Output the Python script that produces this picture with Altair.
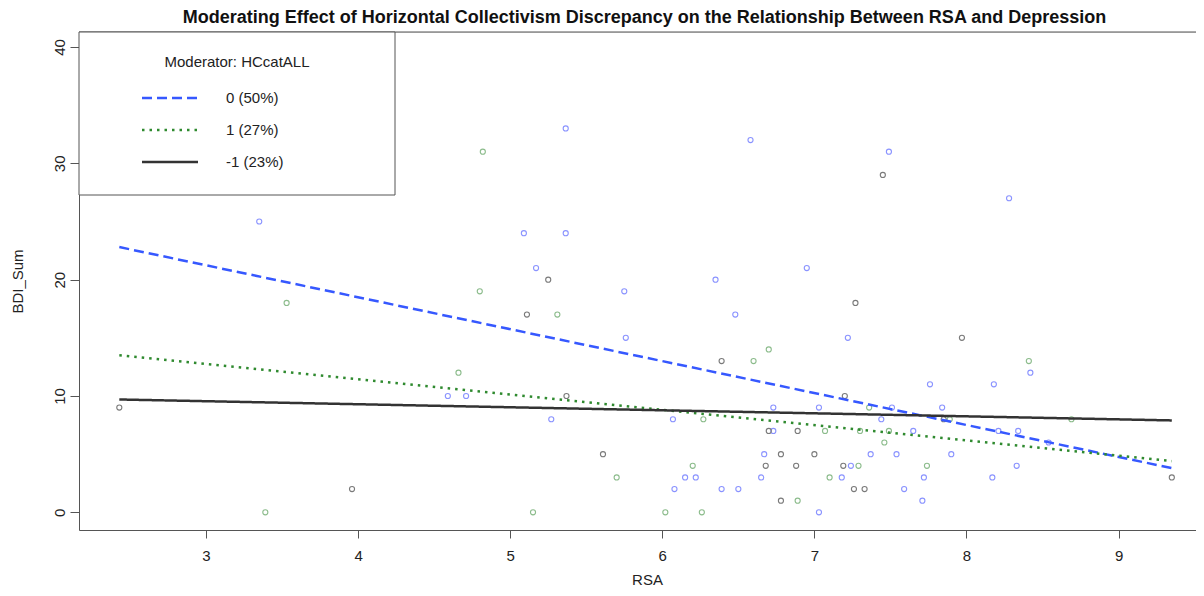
import altair as alt
import pandas as pd

# ---------------- data ----------------
groups = ["0", "1", "-1"]
legend_labels = ["0 (50%)", "1 (27%)", "-1 (23%)"]
legend_title = "Moderator: HCcatALL"
chart_title = ("Moderating Effect of Horizontal Collectivism Discrepancy on the "
               "Relationship Between RSA and Depression")

# group 0 (blue)
rsa_g0 = [3.35, 5.365, 6.58, 7.49, 8.28, 5.09, 5.365, 5.17, 6.95, 5.75, 6.35, 6.48,
          5.76, 7.22, 8.42, 7.76, 8.18, 4.59, 4.71, 6.73, 7.03, 7.51, 7.84, 5.27,
          6.07, 7.44, 6.73, 7.65, 8.21, 8.34, 8.54, 6.67, 7.37, 7.54, 7.90, 7.24,
          8.33, 6.15, 6.22, 6.65, 7.18, 7.72, 8.17, 6.08, 6.39, 6.50, 7.59, 7.71, 7.03]
bdi_g0 = [25, 33, 32, 31, 27, 24, 24, 21, 21, 19, 20, 17,
          15, 15, 12, 11, 11, 10, 10, 9, 9, 9, 9, 8,
          8, 8, 7, 7, 7, 7, 6, 5, 5, 5, 5, 4,
          4, 3, 3, 3, 3, 3, 3, 2, 2, 2, 2, 1, 0]

# group 1 (green)
rsa_g1 = [4.82, 4.80, 3.53, 5.31, 6.70, 6.60, 8.41, 4.66, 7.36, 6.27, 7.89, 8.69,
          7.07, 7.30, 7.49, 7.46, 6.20, 7.29, 7.74, 5.70, 7.10, 6.89, 3.39, 5.15,
          6.02, 6.26]
bdi_g1 = [31, 19, 18, 17, 14, 13, 13, 12, 9, 8, 8, 8,
          7, 7, 7, 6, 4, 4, 4, 3, 3, 1, 0, 0,
          0, 0]

# group -1 (grey)
rsa_gm1 = [7.45, 5.25, 7.27, 5.11, 6.39, 7.97, 5.37, 7.20, 2.43, 7.85, 6.70, 6.89,
           5.61, 6.78, 7.00, 6.68, 6.88, 7.19, 9.35, 3.96, 7.26, 7.33, 6.78]
bdi_gm1 = [29, 20, 18, 17, 13, 15, 10, 10, 9, 8, 7, 7,
           5, 5, 5, 4, 4, 4, 3, 2, 2, 2, 1]

# fitted simple slopes (end points)
line_rsa = [2.43, 9.35]
line_bdi_g0 = [22.8, 3.8]
line_bdi_g1 = [13.5, 4.4]
line_bdi_gm1 = [9.7, 7.9]

x_ticks = [3, 4, 5, 6, 7, 8, 9]
y_ticks = [0, 10, 20, 30, 40]

# ---------------- styling ----------------
FONT = "Liberation Sans"
FS = 15
W, H = 1117, 498
point_colors = {"0": "#8a93ff", "1": "#8cbc8c", "-1": "#7a7a7a"}
line_colors = {"0": "#3658ff", "1": "#2f8a2f", "-1": "#333333"}
line_dash = {"0": [10, 5], "1": [2.5, 5], "-1": [1, 0]}
AX = "#555555"

xs = alt.Scale(domain=[2.165, 9.509], nice=False, zero=False)
ys = alt.Scale(domain=[-1.52, 41.29], nice=False, zero=False)

x_axis = alt.Axis(values=x_ticks, format="d", grid=False, domainColor=AX, tickColor=AX,
                  tickSize=8, labelPadding=17, labelBaseline="middle",
                  labelFont=FONT, labelFontSize=FS, labelColor="#222",
                  title="RSA", titleFont=FONT, titleFontSize=FS, titleFontWeight="normal",
                  titleColor="#222", titleX=568, titleY=49, titleBaseline="middle")
y_axis = alt.Axis(values=y_ticks, format="d", grid=False, domainColor=AX, tickColor=AX,
                  tickSize=9, labelPadding=11, labelAngle=-90, labelAlign="center",
                  labelBaseline="middle", labelFont=FONT, labelFontSize=FS,
                  labelColor="#222", title="BDI_Sum", titleFont=FONT, titleFontSize=FS,
                  titleFontWeight="normal", titleColor="#222", titleX=-62, titleY=249,
                  titleBaseline="middle", titleAngle=-90)


def xenc(field="RSA"):
    return alt.X(f"{field}:Q", scale=xs, axis=x_axis)


def yenc(field="BDI"):
    return alt.Y(f"{field}:Q", scale=ys, axis=y_axis)


series = [("0", rsa_g0, bdi_g0, line_bdi_g0),
          ("1", rsa_g1, bdi_g1, line_bdi_g1),
          ("-1", rsa_gm1, bdi_gm1, line_bdi_gm1)]

layers = []
# points
for g, rx, by, _ in series:
    df = pd.DataFrame({"RSA": rx, "BDI": by})
    layers.append(
        alt.Chart(df).mark_point(shape="circle", filled=False, size=26, strokeWidth=1.1,
                                 color=point_colors[g], opacity=1)
        .encode(x=xenc(), y=yenc())
    )
# fitted lines
for g, _, _, ly in series:
    df = pd.DataFrame({"RSA": line_rsa, "BDI": ly})
    layers.append(
        alt.Chart(df).mark_line(color=line_colors[g], strokeWidth=2.5,
                                strokeDash=line_dash[g], clip=True)
        .encode(x=xenc(), y=yenc())
    )

one = pd.DataFrame({"k": [0]})
# chart title
layers.append(alt.Chart(one).mark_text(text=chart_title, font=FONT, fontSize=18,
                                       fontWeight="bold", color="#111", align="center",
                                       baseline="middle")
              .encode(x=alt.value(W / 2 + 7), y=alt.value(-14)))
# top frame line
layers.append(alt.Chart(one).mark_rule(color=AX, strokeWidth=1)
              .encode(x=alt.value(0), x2=alt.value(W), y=alt.value(0)))
# legend box
layers.append(alt.Chart(one).mark_rect(fill="white", stroke=AX, strokeWidth=1)
              .encode(x=alt.value(0), x2=alt.value(316), y=alt.value(0), y2=alt.value(163)))
layers.append(alt.Chart(one).mark_text(text=legend_title, font=FONT, fontSize=FS,
                                       color="#222", align="center", baseline="middle")
              .encode(x=alt.value(158), y=alt.value(30)))
for i, g in enumerate(groups):
    yy = 66 + 32 * i
    layers.append(alt.Chart(one).mark_rule(color=line_colors[g], strokeWidth=2.5,
                                           strokeDash=line_dash[g])
                  .encode(x=alt.value(63), x2=alt.value(119), y=alt.value(yy)))
    layers.append(alt.Chart(one).mark_text(text=legend_labels[i], font=FONT, fontSize=FS,
                                           color="#222", align="left", baseline="middle")
                  .encode(x=alt.value(147), y=alt.value(yy)))

chart = alt.layer(*layers).properties(
    width=W, height=H,
    padding={"left": 71, "top": 24, "right": 0, "bottom": 58},
    autosize=alt.AutoSizeParams(type="none"),
).configure_view(stroke=None).configure(background="white")

chart.save("out.html", embed_options={"renderer": "svg", "actions": False})
